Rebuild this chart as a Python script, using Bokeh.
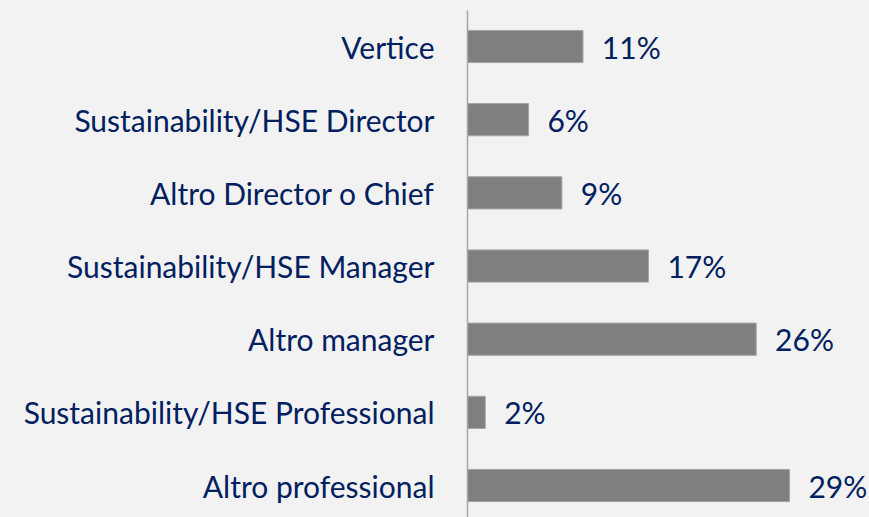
from bokeh.plotting import figure
from bokeh.embed import file_html
from bokeh.resources import INLINE
from bokeh.models import ColumnDataSource, FixedTicker
from bokeh.core.properties import value

# Data (bottom to top)
categories = ["Altro professional", "Sustainability/HSE Professional", "Altro manager",
              "Sustainability/HSE Manager", "Altro Director o Chief",
              "Sustainability/HSE Director", "Vertice"]
values = [29.0, 1.6, 26.0, 16.3, 8.5, 5.5, 10.4]
value_labels = ["29%", "2%", "26%", "17%", "9%", "6%", "11%"]

NAVY = "#002060"
BG = "#f2f2f2"

ypos = list(range(len(categories)))
src = ColumnDataSource(dict(y=ypos, v=values, lab=value_labels,
                            tx=[v + 1.7 for v in values]))

p = figure(width=869, height=517, output_backend="svg", toolbar_location=None,
           x_range=(0, 36.2), y_range=(-0.437, 6.492),
           min_border_left=467, min_border_right=0, min_border_top=10, min_border_bottom=0)
p.background_fill_color = BG
p.border_fill_color = BG
p.outline_line_color = None
p.grid.visible = False
p.xaxis.visible = False

p.hbar(y="y", right="v", left=0, height=0.44, source=src,
       fill_color="#7f7f7f", line_color="#a5a5a5", line_width=1)
p.text(x="tx", y="y", text="lab", source=src, text_font=value("Lato"),
       text_font_size="30px", text_color=NAVY, text_baseline="middle", text_align="left")

ax = p.yaxis[0]
ax.ticker = FixedTicker(ticks=ypos)
ax.major_label_overrides = {i: c for i, c in zip(ypos, categories)}
ax.major_tick_line_color = None
ax.minor_tick_line_color = None
ax.major_tick_out = 0
ax.major_label_standoff = 33
ax.major_label_text_font = "Lato"
ax.major_label_text_font_size = "30px"
ax.major_label_text_color = NAVY
ax.axis_line_color = "#a6a6a6"
ax.axis_line_width = 1.5

html = file_html(p, INLINE)
html = html.replace("</head>", "<style>html, body { background: #f2f2f2; }</style></head>", 1)
open("out.html", "w").write(html)
